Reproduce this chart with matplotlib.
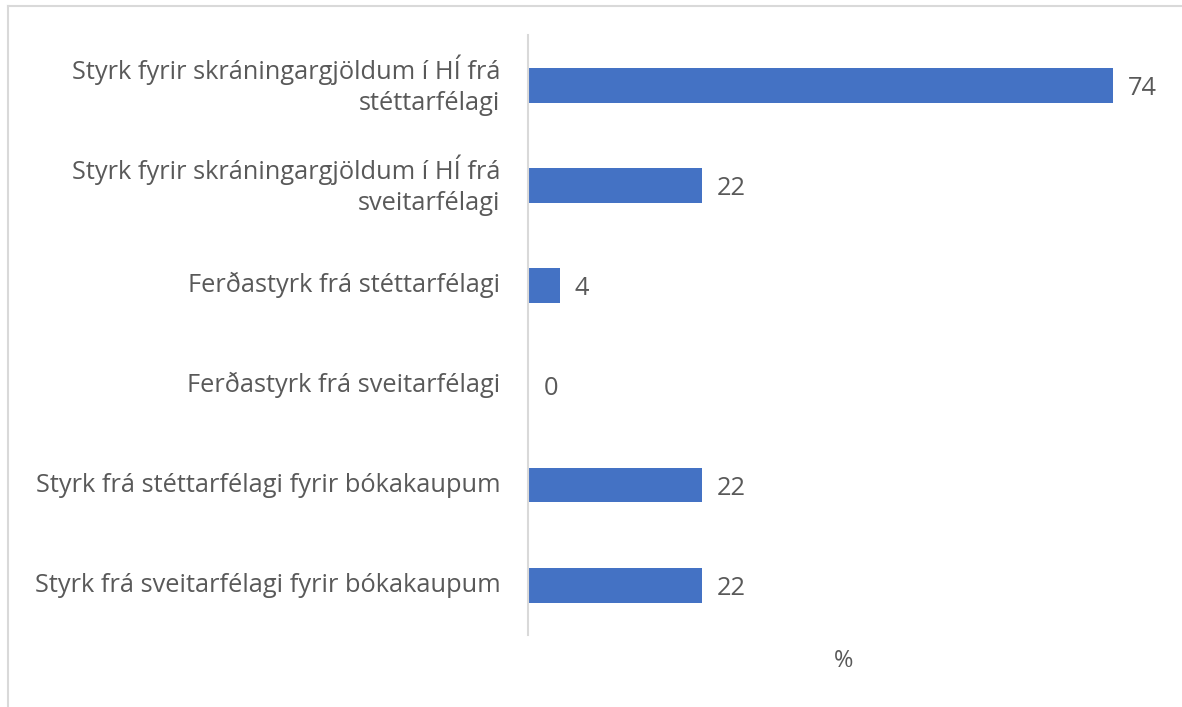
import matplotlib
matplotlib.use('Agg')
import matplotlib.pyplot as plt
from matplotlib.lines import Line2D

# gögn
categories = [
    'Styrk fyrir skráningargjöldum í HÍ frá\nstéttarfélagi',
    'Styrk fyrir skráningargjöldum í HÍ frá\nsveitarfélagi',
    'Ferðastyrk frá stéttarfélagi',
    'Ferðastyrk frá sveitarfélagi',
    'Styrk frá stéttarfélagi fyrir bókakaupum',
    'Styrk frá sveitarfélagi fyrir bókakaupum',
]
values = [74, 22, 4, 0, 22, 22]

bar_color = '#4472C4'
text_color = '#595959'
grid_color = '#D9D9D9'

plt.rcParams['font.family'] = ['Open Sans', 'DejaVu Sans']

fig = plt.figure(figsize=(11.82, 7.07), dpi=100)
ax = fig.add_axes([528 / 1182, 72 / 707, 632 / 1182, 600 / 707])

y = list(range(len(categories)))
ax.barh(y, values, height=0.35, color=bar_color)
ax.set_ylim(len(categories) - 0.5, -0.5)
ax.set_xlim(0, 80)

ax.set_yticks(y)
ax.set_yticklabels(categories, fontsize=18.3, color=text_color,
                   linespacing=1.3, va='center')
ax.tick_params(axis='y', length=0, pad=20)
ax.set_xticks([])

for s in ['top', 'right', 'bottom']:
    ax.spines[s].set_visible(False)
ax.spines['left'].set_color(grid_color)
ax.spines['left'].set_linewidth(1.5)

for yi, v in zip(y, values):
    ax.annotate(str(v), (v, yi), xytext=(11, -2.5), textcoords='offset points',
                ha='left', va='center', fontsize=18.3, color=text_color)

ax.set_xlabel('%', fontsize=17, color=text_color, labelpad=10)

# rammi (bara efri og vinstri brún sýnileg)
fig.add_artist(Line2D([7.5 / 1182, 1.0], [1 - 5.5 / 707, 1 - 5.5 / 707],
                      transform=fig.transFigure, color=grid_color, lw=1.5))
fig.add_artist(Line2D([7.5 / 1182, 7.5 / 1182], [0, 1 - 5.5 / 707],
                      transform=fig.transFigure, color=grid_color, lw=1.5))

fig.savefig('out.png', dpi=100)
